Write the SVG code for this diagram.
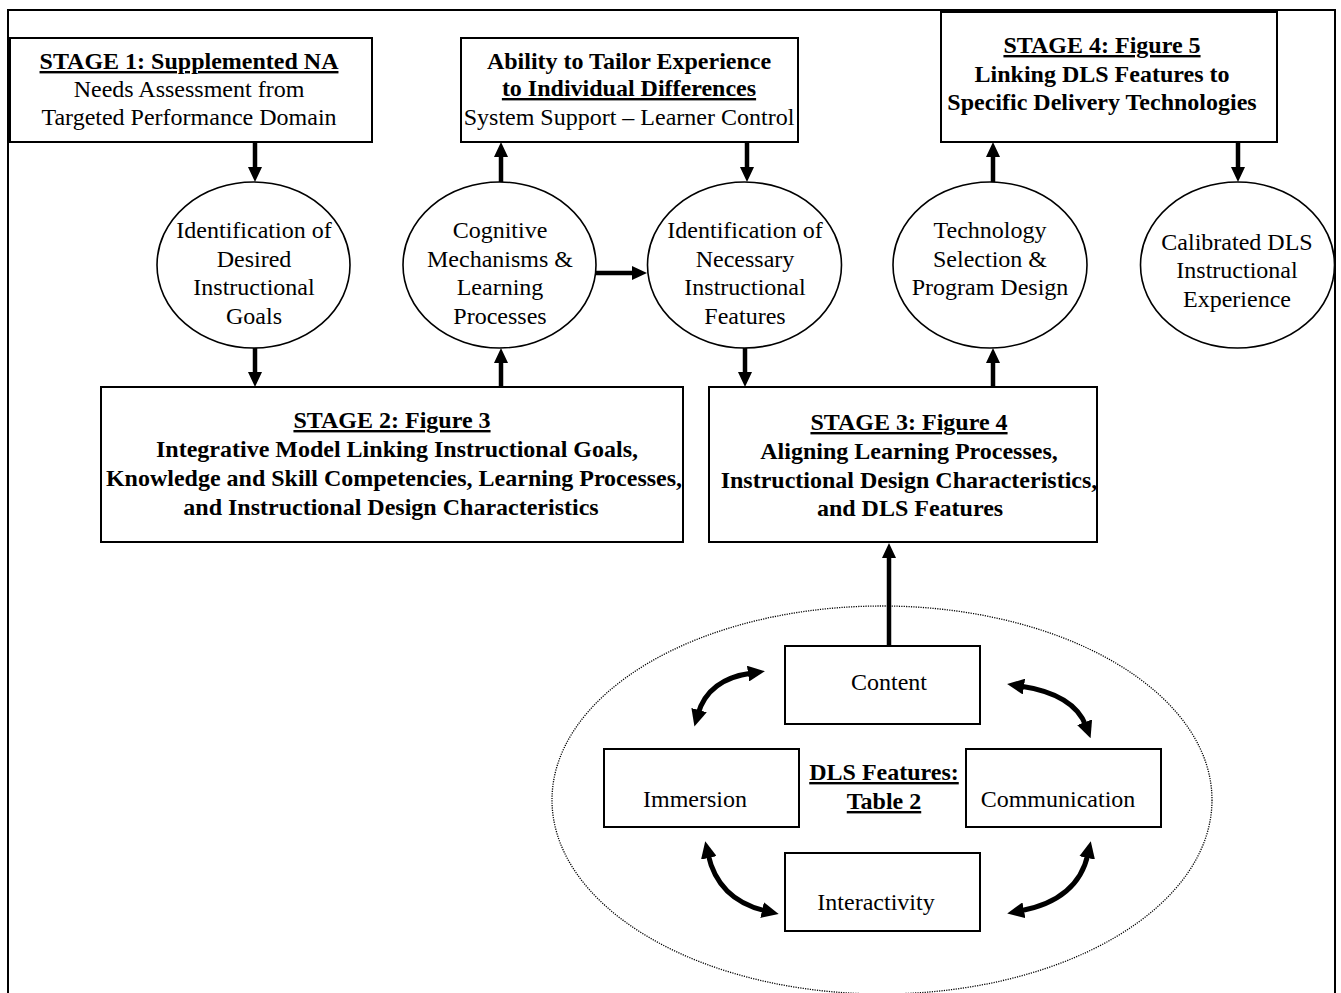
<svg xmlns="http://www.w3.org/2000/svg" width="1341" height="993" viewBox="0 0 1341 993">
<style>
text{font-family:"Liberation Serif","Times New Roman",serif;font-size:24px;fill:#000;text-anchor:middle}
.b{font-weight:bold}
.u{text-decoration:underline}
.box{fill:#fff;stroke:#000;stroke-width:2}
.ell{fill:#fff;stroke:#000;stroke-width:1.6}
.arr{fill:none;stroke:#000;stroke-width:4.5;marker-end:url(#ah)}
.curve{fill:none;stroke:#000;stroke-width:5;marker-start:url(#ah2);marker-end:url(#ah2)}
</style>
<defs>
<marker id="ah" markerUnits="userSpaceOnUse" viewBox="0 0 15 14" markerWidth="15" markerHeight="14" refX="3" refY="7" orient="auto"><path d="M0,0 L15,7 L0,14 z" fill="#000"/></marker>
<marker id="ah2" markerUnits="userSpaceOnUse" viewBox="0 0 17 16" markerWidth="17" markerHeight="16" refX="4" refY="8" orient="auto-start-reverse"><path d="M0,0 L17,8 L0,16 z" fill="#000"/></marker>
</defs>
<rect x="0" y="0" width="1341" height="993" fill="#fff"/>
<rect id="frame" x="8" y="10" width="1327" height="1000" fill="none" stroke="#000" stroke-width="2"/>

<g id="dls-group">
<ellipse cx="882" cy="800" rx="330" ry="194" fill="none" stroke="#000" stroke-width="1.3" stroke-dasharray="1.2,1.2"/>
<text x="884" y="780" class="b u">DLS Features:</text>
<text x="884" y="809" class="b u">Table 2</text>
</g>

<g id="stage1"><rect class="box" x="10" y="38" width="362" height="104"/>
<text x="189" y="69" class="b u">STAGE 1: Supplemented NA</text>
<text x="189" y="97">Needs Assessment from</text>
<text x="189" y="125">Targeted Performance Domain</text></g>

<g id="ability"><rect class="box" x="461" y="38" width="337" height="104"/>
<text x="629" y="69" class="b">Ability to Tailor Experience</text>
<text x="629" y="96" class="b u">to Individual Differences</text>
<text x="629" y="125">System Support – Learner Control</text></g>

<g id="stage4"><rect class="box" x="941" y="12" width="336" height="130"/>
<text x="1102" y="53" class="b u">STAGE 4: Figure 5</text>
<text x="1102" y="82" class="b">Linking DLS Features to</text>
<text x="1102" y="110" class="b">Specific Delivery Technologies</text></g>

<g id="goals"><ellipse class="ell" cx="253.5" cy="265" rx="96.5" ry="83"/>
<text x="254" y="238">Identification of</text>
<text x="254" y="267">Desired</text>
<text x="254" y="295">Instructional</text>
<text x="254" y="324">Goals</text></g>

<g id="cognitive"><ellipse class="ell" cx="499.5" cy="265" rx="96.5" ry="83"/>
<text x="500" y="238">Cognitive</text>
<text x="500" y="267">Mechanisms &amp;</text>
<text x="500" y="295">Learning</text>
<text x="500" y="324">Processes</text></g>

<g id="features"><ellipse class="ell" cx="744.5" cy="265" rx="97" ry="83"/>
<text x="745" y="238">Identification of</text>
<text x="745" y="267">Necessary</text>
<text x="745" y="295">Instructional</text>
<text x="745" y="324">Features</text></g>

<g id="technology"><ellipse class="ell" cx="990" cy="265" rx="97" ry="83"/>
<text x="990" y="238">Technology</text>
<text x="990" y="267">Selection &amp;</text>
<text x="990" y="295">Program Design</text></g>

<g id="calibrated"><ellipse class="ell" cx="1237.5" cy="265" rx="97" ry="83"/>
<text x="1237" y="250">Calibrated DLS</text>
<text x="1237" y="278">Instructional</text>
<text x="1237" y="307">Experience</text></g>

<g id="stage2"><rect class="box" x="101" y="387" width="582" height="155"/>
<text x="392" y="428" class="b u">STAGE 2: Figure 3</text>
<text x="397" y="457" class="b">Integrative Model Linking Instructional Goals,</text>
<text x="394" y="486" class="b">Knowledge and Skill Competencies, Learning Processes,</text>
<text x="391" y="515" class="b">and Instructional Design Characteristics</text></g>

<g id="stage3"><rect class="box" x="709" y="387" width="388" height="155"/>
<text x="909" y="430" class="b u">STAGE 3: Figure 4</text>
<text x="909" y="459" class="b">Aligning Learning Processes,</text>
<text x="909" y="488" class="b">Instructional Design Characteristics,</text>
<text x="910" y="516" class="b">and DLS Features</text></g>

<g id="content"><rect class="box" x="785" y="646" width="195" height="78"/>
<text x="889" y="690">Content</text></g>
<g id="immersion"><rect class="box" x="604" y="749" width="195" height="78"/>
<text x="695" y="807">Immersion</text></g>
<g id="communication"><rect class="box" x="966" y="749" width="195" height="78"/>
<text x="1058" y="807">Communication</text></g>
<g id="interactivity"><rect class="box" x="785" y="853" width="195" height="78"/>
<text x="876" y="910">Interactivity</text></g>

<g id="connectors">
<path class="arr" d="M255,142 L255,170"/>
<path class="arr" d="M255,348 L255,375"/>
<path class="arr" d="M501,387 L501,360"/>
<path class="arr" d="M501,182 L501,154"/>
<path class="arr" d="M747,142 L747,170"/>
<path class="arr" d="M745,348 L745,375"/>
<path class="arr" d="M993,387 L993,360"/>
<path class="arr" d="M993,182 L993,154"/>
<path class="arr" d="M1238,142 L1238,170"/>
<path class="arr" d="M596,273 L635,273"/>
<path class="arr" d="M889,646 L889,555"/>
<path class="curve" d="M698,714 Q708,679 752,673"/>
<path class="curve" d="M1020,686 Q1074,694 1086,726"/>
<path class="curve" d="M708,854 Q718,900 766,911"/>
<path class="curve" d="M1088,854 Q1078,900 1020,911"/>
</g>
</svg>
